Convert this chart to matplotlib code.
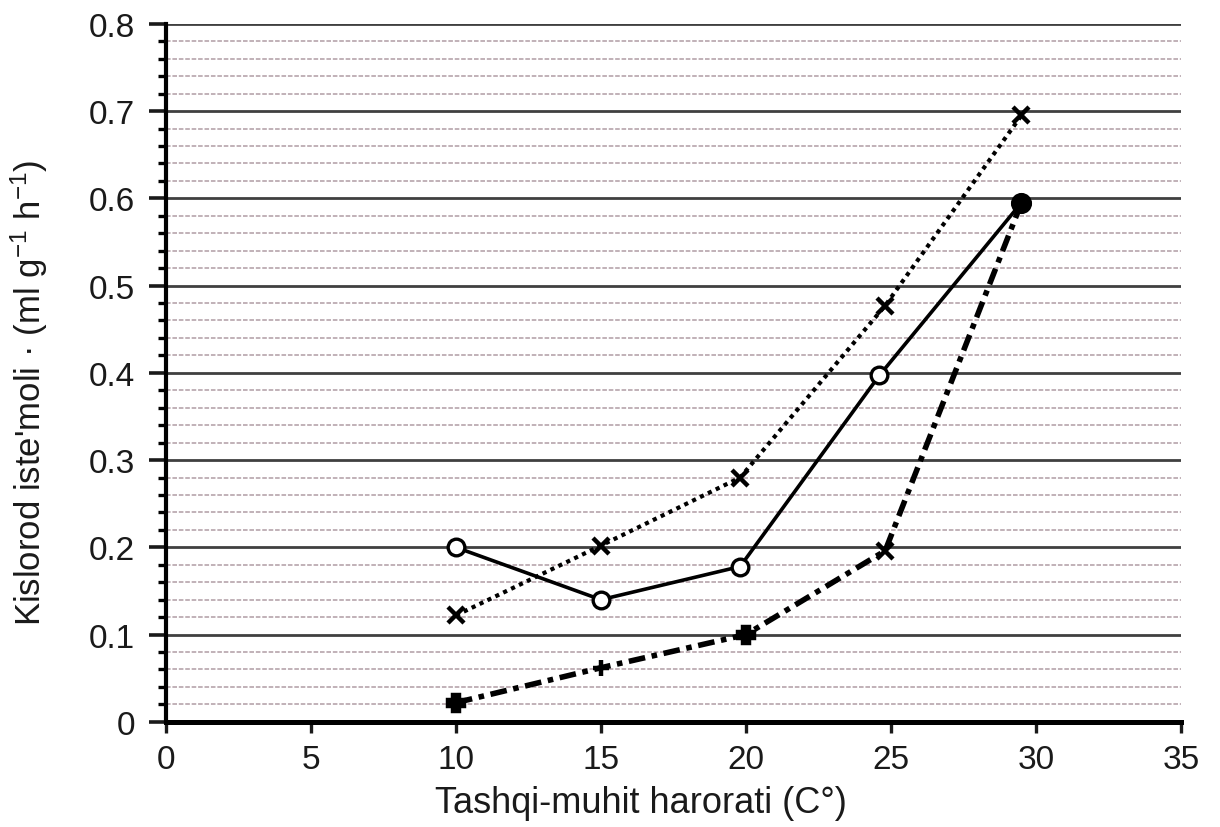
import numpy as np
import matplotlib
matplotlib.use('Agg')
import matplotlib.pyplot as plt
from matplotlib.ticker import MultipleLocator

plt.rcParams['font.family'] = ['Liberation Sans', 'DejaVu Sans']
plt.rcParams['mathtext.fontset'] = 'custom'
plt.rcParams['mathtext.rm'] = 'Liberation Sans'
plt.rcParams['mathtext.default'] = 'regular'

# data
temp_solid = [10, 15, 19.8, 24.6, 29.5]
o2_solid = [0.20, 0.14, 0.178, 0.397, 0.595]

temp_dotted = [10, 15, 19.8, 24.8, 29.5]
o2_dotted = [0.122, 0.202, 0.28, 0.477, 0.695]

temp_dashdot = [10, 15, 20, 24.8, 29.5]
o2_dashdot = [0.022, 0.062, 0.10, 0.196, 0.595]
dashdot_markers = ['P', '+', 'P', 'x', 'o']

x_ticks = [0, 5, 10, 15, 20, 25, 30, 35]
y_ticks = [0, 0.1, 0.2, 0.3, 0.4, 0.5, 0.6, 0.7, 0.8]
y_ticklabels = ['0', '0.1', '0.2', '0.3', '0.4', '0.5', '0.6', '0.7', '0.8']

fig = plt.figure(figsize=(12.2, 8.28), dpi=100)
ax = fig.add_axes([0.136, 0.127, 0.832, 0.843])

# ruled "paper" lines
ax.set_ylim(0, 0.8)
ax.set_xlim(0, 35)
ax.yaxis.set_minor_locator(MultipleLocator(0.02))
ax.grid(axis='y', which='major', color='#404040', lw=2.0, zorder=0)
ax.grid(axis='y', which='minor', color='#a8929a', lw=1.1, ls=(0, (3, 1.2)), alpha=0.9, zorder=0)

# series
ax.plot(temp_solid, o2_solid, color='black', lw=2.6, marker='o', ms=12,
        mfc='white', mec='black', mew=2.4, zorder=4)
ax.plot(temp_dotted, o2_dotted, color='black', lw=3.0, ls=(0, (1, 1.1)),
        marker='x', ms=12, mew=3.2, zorder=3)
ax.plot(temp_dashdot, o2_dashdot, color='black', lw=4.0, ls=(0, (3, 1.2, 1, 1.2)), zorder=3)
for x, y, m in zip(temp_dashdot, o2_dashdot, dashdot_markers):
    ax.plot(x, y, marker=m, color='black', ms=12, mew=3.2, zorder=5)

# axes styling
for s in ['top', 'right']:
    ax.spines[s].set_visible(False)
ax.spines['left'].set_linewidth(3.0)
ax.spines['bottom'].set_linewidth(3.6)
ax.set_xticks(x_ticks)
ax.set_xticklabels([str(t) for t in x_ticks])
ax.set_yticks(y_ticks)
ax.set_yticklabels(y_ticklabels)
ax.tick_params(axis='y', which='major', length=12, width=2.6, direction='out', labelsize=24, pad=10, colors='#1a1a1a')
ax.tick_params(axis='y', which='minor', length=6, width=2.4, direction='out')
ax.tick_params(axis='x', length=8, width=2.4, direction='out', labelsize=24, pad=8, colors='#1a1a1a')

ax.set_xlabel('Tashqi-muhit harorati (C°)', fontsize=26, color='#1a1a1a')
ax.set_ylabel("Kislorod iste'moli · (ml g$^{-1}$ h$^{-1}$)", fontsize=25, color='#1a1a1a')
ax.xaxis.set_label_coords(0.468, -0.09)
ax.yaxis.set_label_coords(-0.114, 0.473)

fig.savefig('out.png', dpi=100)
